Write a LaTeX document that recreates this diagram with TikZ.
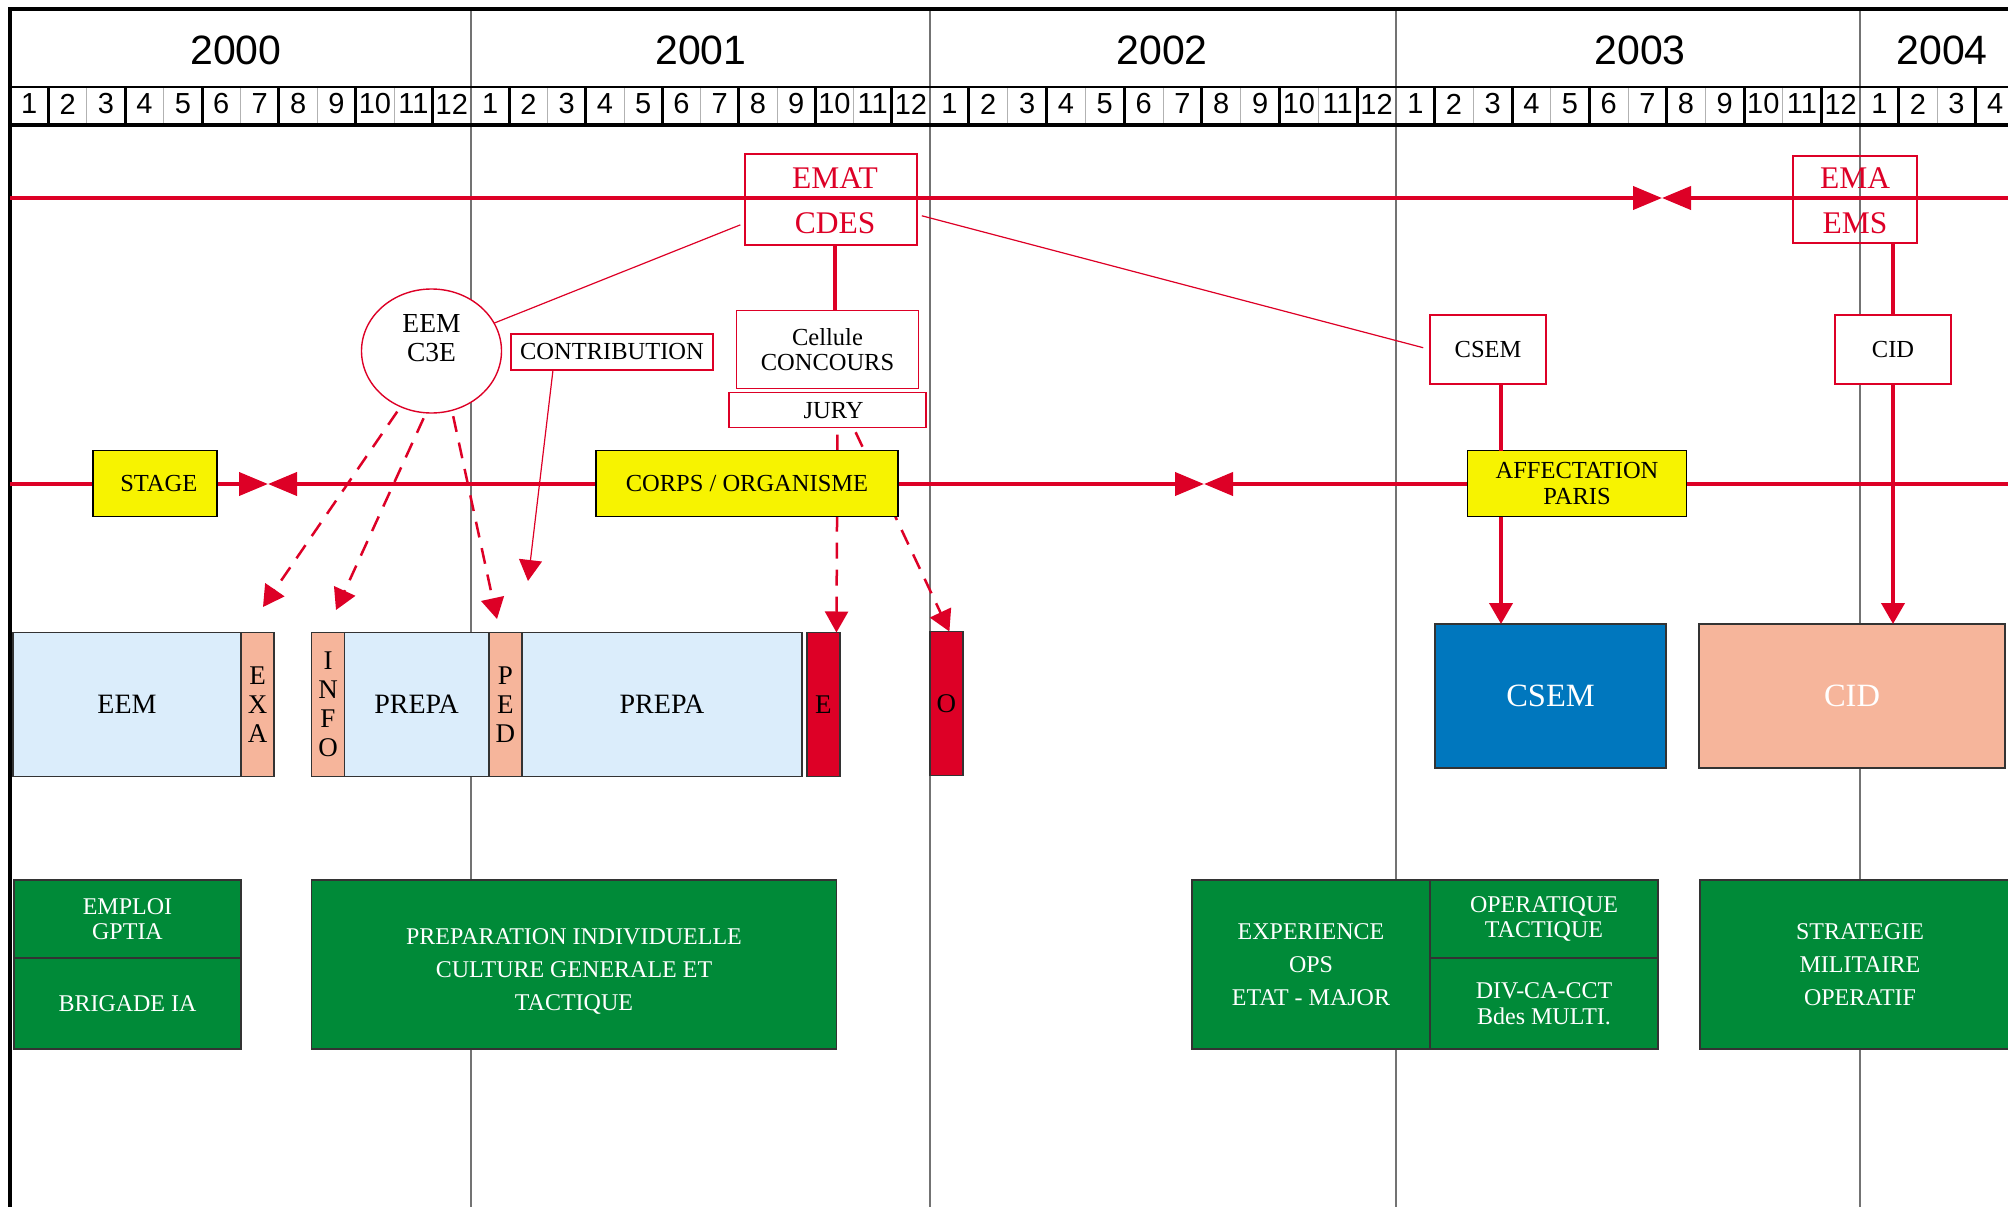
\documentclass[tikz,border=0pt]{standalone}
\usepackage{fontspec}
\setmainfont{Liberation Serif}
\newfontfamily\hdrfont{Liberation Sans}
\usetikzlibrary{arrows.meta,positioning,shapes.geometric}

\definecolor{alarm}{RGB}{221,0,38}
\definecolor{lemon}{RGB}{247,243,0}
\definecolor{pale}{RGB}{219,237,251}
\definecolor{salmon}{RGB}{246,181,155}
\definecolor{navy}{RGB}{0,119,190}
\definecolor{field}{RGB}{0,138,56}
\definecolor{yrgray}{RGB}{115,115,115}
\newcommand{\fs}[2]{\fontsize{#1}{#2}\selectfont}

\begin{document}
\begin{tikzpicture}[x=1pt,y=-1pt, every node/.style={inner sep=0pt,outer sep=0pt,align=center},
  redrule/.style={alarm,line width=4pt},
  link/.style={alarm,line width=1.2pt},
  feed/.style={alarm,line width=4pt,-{Triangle[length=21pt,width=23pt]}},
  dashlink/.style={alarm,line width=2.5pt,dash pattern=on 16pt off 11pt,-{Triangle[length=21pt,width=23pt]}},
  meet/.tip={Triangle[length=29pt,width=23pt]},
  hq/.style={draw=alarm,line width=1.4pt},
  staff/.style={text=alarm,font=\fs{31.5}{32}},
  orgbox/.style={draw=alarm,line width=1.4pt,fill=white,font=\fs{24.5}{25}},
  stepbox/.style={draw=black,line width=1.4pt,fill=lemon,minimum height=66,font=\fs{24.5}{25.5}},
  phase/.style={draw=black!80,line width=1.2pt,fill=pale,minimum height=144,font=\fs{28}{29}},
  slot/.style={phase,fill=salmon,minimum width=33,font=\fs{27}{29}},
  exam/.style={phase,fill=alarm,minimum width=33,font=\fs{27}{29}},
  goal/.style={draw=black!80,line width=1.2pt,minimum width=231,minimum height=144,text=white,font=\fs{32.5}{33}},
  skill/.style={draw=black!80,line width=1.2pt,fill=field,text=white,font=\fs{24}{24.5}}]
\useasboundingbox (0,0) rectangle (2008,1207);

% calendar
\foreach \xs in {471,930,1396,1860}
  \draw[yrgray,line width=1.5pt] (\xs,9) -- (\xs,1207);
\foreach \yr/\xs/\xe/\cx/\nm in {2000/10/471/236/12,2001/471/930/701/12,2002/930/1396/1162/12,2003/1396/1860/1640/12,2004/1860/2323/1942/4}{
  \pgfmathsetmacro{\mw}{(\xe-\xs)/12}
  \node[font=\hdrfont\fs{41}{41}] (yr\yr) at (\cx,50) {\yr};
  \foreach \m in {1,...,\nm}
    \node[font=\hdrfont\fs{29}{29}] (m\yr-\m) at ({\xs+(\m-0.5)*\mw},104) {\m};
  \foreach \k in {2,4,...,10}
    \draw[gray!60,line width=1pt] ({\xs+\k*\mw},87) -- ({\xs+\k*\mw},125);
  \foreach \k in {1,3,...,11}
    \draw[line width=3pt] ({\xs+\k*\mw},87) -- ({\xs+\k*\mw},125);
}
\draw[line width=1.2pt] (10,87) -- (2008,87);
\draw[line width=3.5pt] (10,125) -- (2008,125);
\draw[line width=4pt] (2008,9) -- (10,9) -- (10,1207);

% the two red rules
\coordinate (l1w) at (10,198);
\coordinate (l1e) at (2008,198);
\coordinate (bow1) at (1662,198);
\coordinate (l2w) at (10,484);
\coordinate (l2e) at (2008,484);
\coordinate (bowA) at (268,484);
\coordinate (bowB) at (1204,484);
\draw[redrule,-meet] (l1w) -- (bow1);
\draw[redrule,-meet] (l1e) -- (bow1);
\draw[redrule,-meet] (l2w) -- (bowA);
\draw[redrule,meet-meet] (bowA) -- (bowB);
\draw[redrule,-meet] (l2e) -- (bowB);

% organisations
\node[hq,minimum width=172,minimum height=91] (ematbox) at (831,199.5) {};
\node[staff] (emat) at (835,178) {EMAT};
\node[staff] (cdes) at (835,223) {CDES};
\node[hq,minimum width=124,minimum height=87] (emabox) at (1855,199.5) {};
\node[staff] (ema) at (1855,178) {EMA};
\node[staff] (ems) at (1855,223) {EMS};
\node[ellipse,draw=alarm,line width=1.4pt,fill=white,minimum width=140,minimum height=124] (eem) at (431.5,351) {};
\node[font=\fs{27.5}{28.5}] (eemtxt) at (431.5,338) {EEM\\C3E};
\node[orgbox,minimum width=202,minimum height=36] (contrib) at (612,352) {CONTRIBUTION};
\node[orgbox,minimum width=182,minimum height=78] (cellule) at (827.5,349.7) {Cellule\\CONCOURS};
\node[orgbox,minimum width=197,minimum height=35,below=4pt of cellule] (jury) {\hspace*{12pt}JURY};
\node[orgbox,minimum width=116,minimum height=69] (csemsmall) at (1488,349.5) {CSEM};
\node[orgbox,minimum width=116,minimum height=69] (cidsmall) at (1893,349.5) {CID};

% schooling
\node[phase,minimum width=228] (eembox) at (127,704.5) {EEM};
\node[slot,right=0pt of eembox] (exa) {E\\X\\A};
\node[slot,minimum width=32.7] (info) at (328,704.5) {I\\N\\F\\O};
\node[phase,minimum width=144.6,right=0pt of info] (prepa1) {PREPA};
\node[slot,right=0pt of prepa1] (ped) {P\\E\\D};
\node[phase,minimum width=280,right=0pt of ped] (prepa2) {PREPA};
\node[exam,right=5pt of prepa2] (ebox) {E};
\node[exam] (obox) at (946.4,703.5) {O};
\node[goal,fill=navy] (csembig) at (1550.5,696) {CSEM};
\node[goal,fill=salmon,minimum width=306] (cidbig) at (1852,696) {CID};

% links
\draw[link,shorten <=5pt] (ematbox.west |- cdes) -- (eem.24);
\draw[link,shorten <=5pt,shorten >=7pt] ([yshift=-15pt]ematbox.east) -- (csemsmall.west);
\draw[redrule] (emat |- ematbox.south) -- (emat |- cellule.north);
\draw[redrule] (emabox.south -| cidsmall) -- (cidsmall.north);

\coordinate (tipA) at (263,607);
\coordinate (tipB) at (336,610);
\coordinate (tipC) at (497,619);
\coordinate (tipK) at (528,581);
\draw[dashlink,shorten <=6pt] (eem.241) -- (tipA);
\draw[dashlink,shorten <=6pt] (eem.265) -- (tipB);
\draw[dashlink,shorten <=6pt] (eem.289) -- (tipC);
\draw[link,-{Triangle[length=21pt,width=23pt]}] ([xshift=-59pt]contrib.south) -- (tipK);
\draw[dashlink,shorten <=7pt] ([xshift=10pt]jury.south) -- ([xshift=13pt]ebox.north);
\draw[dashlink,shorten <=5pt] ([xshift=26pt]jury.south) -- ([xshift=3pt]obox.north);

% steps on the career line
\node[stepbox,minimum width=124] (stage) at (154.8,483.7) {\hspace*{8pt}STAGE};
\node[stepbox,minimum width=302] (corps) at (747,483.7) {CORPS / ORGANISME};
\node[stepbox,minimum width=219] (affect) at (1577,483.7) {AFFECTATION\\PARIS};

\coordinate (csemx) at (1501,0);
\draw[redrule] (csemsmall.south -| csemx) -- (affect.north -| csemx);
\draw[feed] (affect.south -| csemx) -- (csembig.north -| csemx);
\draw[feed] (cidsmall.south) -- (cidsmall.south |- cidbig.north);

% skills
\node[skill,minimum width=227,minimum height=78] (jobtop) at (127.5,919) {EMPLOI\\GPTIA};
\node[skill,minimum width=227,minimum height=91,below=0pt of jobtop] (jobbot) {BRIGADE IA};
\node[skill,minimum width=525,minimum height=169] (prep) at (574,964.5) {};
\node[text=white,font=\fs{24}{33}] (preptxt) at (574,971) {PREPARATION INDIVIDUELLE\\CULTURE GENERALE ET\\TACTIQUE};
\node[skill,minimum width=238,minimum height=169,font=\fs{24}{33}] (expleft) at (1311,964.5) {EXPERIENCE\\OPS\\ETAT - MAJOR};
\node[skill,minimum width=228,minimum height=78,anchor=north west] (exptop) at (expleft.north east) {OPERATIQUE\\TACTIQUE};
\node[skill,minimum width=228,minimum height=91,below=0pt of exptop,font=\fs{24}{25.5}] (expbot) {DIV-CA-CCT\\Bdes MULTI.};
\node[skill,minimum width=320,minimum height=169,font=\fs{24}{33}] (strat) at (1860,964.5) {STRATEGIE\\MILITAIRE\\OPERATIF};
\end{tikzpicture}
\end{document}
